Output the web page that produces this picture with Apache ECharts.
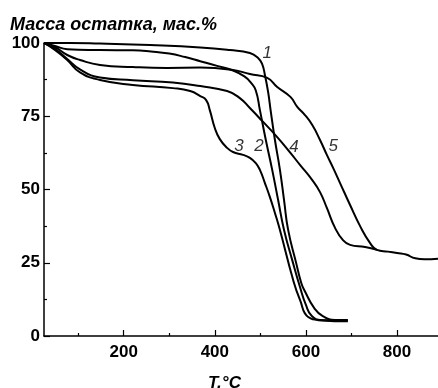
<!DOCTYPE html>
<html>
<head>
<meta charset="utf-8">
<script src="https://cdn.jsdelivr.net/npm/echarts@6/dist/echarts.min.js"></script>
<style>
html,body{margin:0;padding:0;background:#fff;}
#chart{width:438px;height:388px;}
</style>
</head>
<body>
<div id="chart"></div>
<script>
// Data: [temperature °C, residual mass %]
const curve1 = [[25,100],[82,100],[148,99.8],[258,99.3],[368,98.5],[433,97.6],[477,96.6],[495,94.9],[504,92.8],[510,89.1],[517,83.3],[523,76.5],[532,66.9],[543,56.7],[552,46.4],[561,36.2],[578,25.3],[590,18],[598,15.2],[618,9.6],[637,6.8],[664,5.5],[692,5.5]];
const curve2 = [[25,100],[49,99],[76,97.9],[148,97.6],[220,97.5],[260,97.1],[300,96.4],[335,95.2],[368,93.8],[405,92.2],[440,90.6],[465,88.6],[480,86.3],[490,83.8],[499,77.1],[512,66.9],[526,56.7],[539,46.4],[552,36.2],[570,25.9],[587,16.7],[600,10.6],[613,6.8],[635,5.3],[692,5.0]];
const curve3 = [[25,100],[49,97.6],[76,94.2],[104,90],[148,87.4],[220,85.7],[308,84.6],[346,83.6],[368,81.9],[381,80.5],[389,77.1],[400,71],[411,67.2],[427,64.2],[440,62.8],[462,61.8],[477,60.8],[490,59],[499,56.7],[510,52.2],[521,47.4],[532,42],[543,36.2],[572,19.1],[587,12.3],[605,6.5],[631,5.5],[692,5.3]];
const curve4 = [[25,100],[49,98],[76,94.5],[104,91],[148,88.2],[220,87.3],[308,86.5],[368,85.3],[427,83.6],[455,81.2],[477,77.8],[504,73.4],[537,67.9],[566,62.5],[587,58.4],[614,53.2],[631,49.1],[646,43.7],[664,36.9],[681,32.8],[697,31.1],[730,30.4],[756,29.4]];
const curve5 = [[25,100],[49,98.6],[76,95.9],[104,94.2],[148,92.5],[220,91.8],[295,91.5],[368,91.6],[440,90.8],[477,89.4],[515,88.1],[537,85],[566,81.6],[581,78.2],[598,75.4],[614,72],[631,66.9],[646,61.8],[660,57.3],[675,52.2],[697,44.7],[719,37.5],[741,31.7],[756,29.4],[780,28.8],[800,28.3],[820,27.8],[840,26.5],[860,26.2],[890,26.4]];

const curveNames = ['1','2','3','4','5'];
const labelT = [515, 497, 453, 574, 660];
const labelW = [96.4, 64.8, 64.8, 64.5, 64.8];

const xMajorTicks = [200, 400, 600, 800];
const xMinorTicks = [100, 300, 500, 700];
const yTicks = [0, 25, 50, 75, 100];

const FONT = 'Liberation Sans, Arial, sans-serif';

const chart = echarts.init(document.getElementById('chart'), null, {renderer:'canvas'});

const curves = [curve1, curve2, curve3, curve4, curve5];
const series = curves.map((c, i) => ({
  name: curveNames[i],
  type: 'line',
  data: c,
  xAxisIndex: 0,
  showSymbol: false,
  smooth: 0.5,
  lineStyle: {color: '#000', width: 2},
  silent: true
}));
series.push({
  type: 'scatter',
  xAxisIndex: 0,
  symbolSize: 0,
  data: curveNames.map((n, i) => ({value: [labelT[i], labelW[i]], name: n})),
  label: {
    show: true,
    position: 'inside',
    formatter: p => p.name,
    fontFamily: FONT,
    fontStyle: 'italic',
    fontSize: 17,
    color: '#000'
  },
  silent: true
});

chart.setOption({
  backgroundColor: '#fff',
  animation: false,
  title: [
    {text: 'Масса остатка, мас.%', left: 5, top: 11,
     textStyle: {fontFamily: FONT, fontSize: 18, fontWeight: 'bold', fontStyle: 'italic', color: '#000'}},
    {text: 'T,°C', left: 203, top: 370,
     textStyle: {fontFamily: FONT, fontSize: 17, fontWeight: 'bold', fontStyle: 'italic', color: '#000'}}
  ],
  grid: {left: 44, right: 0, top: 43, bottom: 52, containLabel: false},
  xAxis: [
    {
      type: 'value', min: 25, max: 890, position: 'bottom',
      axisLine: {show: true, onZero: false, lineStyle: {color: '#000', width: 1.5}},
      axisTick: {show: true, inside: true, length: 6, customValues: xMajorTicks, lineStyle: {color: '#000', width: 1.2}},
      axisLabel: {customValues: xMajorTicks, margin: 8, fontFamily: FONT, fontSize: 17, fontWeight: 'bold', color: '#000'},
      splitLine: {show: false}
    },
    {
      type: 'value', min: 25, max: 890, position: 'bottom',
      axisLine: {show: false},
      axisTick: {show: true, inside: true, length: 3, customValues: xMinorTicks, lineStyle: {color: '#000', width: 1.2}},
      axisLabel: {show: false},
      splitLine: {show: false}
    }
  ],
  yAxis: {
    type: 'value', min: 0, max: 100, interval: 25,
    axisLine: {show: true, lineStyle: {color: '#000', width: 1.5}},
    axisTick: {show: true, inside: true, length: 6, customValues: yTicks, lineStyle: {color: '#000', width: 1.2}},
    minorTick: {show: true, splitNumber: 2, length: 3, lineStyle: {color: '#000', width: 1.2}},
    axisLabel: {margin: 4, fontFamily: FONT, fontSize: 17, fontWeight: 'bold', color: '#000'},
    splitLine: {show: false}
  },
  series: series
});
</script>
</body>
</html>
